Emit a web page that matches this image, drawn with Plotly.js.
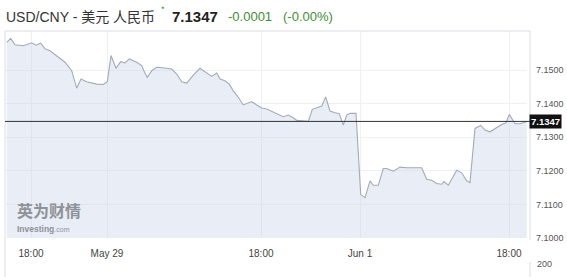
<!DOCTYPE html>
<html><head><meta charset="utf-8">
<script src="https://cdn.plot.ly/plotly-3.0.1.min.js"></script>
<style>html,body{margin:0;padding:0;background:#fff;}#chart{width:567px;height:277px;}</style>
</head><body><div id="chart"></div>
<script>
// bar positions (time index) and USD/CNY rates
const barPos = [0.7,4.7,9,17.3,25.7,30,34.7,39,44,50.7,59,65.7,70.7,75,80.7,90.7,97.3,101.3,105,110,114.7,119,123.3,130.7,135.7,138,141.3,145.7,150.7,159,165.7,170.7,175.7,180.7,187.3,194,200.7,205.7,210.7,214,219,223.3,227.3,232.3,237.3,242.3,245.7,250.7,255.7,260.7,265,269,274,277.3,282.3,287.3,290.7,297.3,302.3,306.3,310.7,315.7,319.7,324,329,333.3,337.3,340.7,344,350,354.7,359,364,367.3,372.3,377.3,380.7,387.3,394,400.7,415.7,420.7,425.7,430.7,435.7,438,442.3,447.3,450.7,455.7,460.7,464,469,474.7,479,484,489,495.7,500,503.3,509,514,520.7];
const rates = [7.1582,7.1594,7.1575,7.1572,7.1581,7.1574,7.1580,7.1563,7.1557,7.1543,7.1523,7.1498,7.1446,7.1473,7.1465,7.1458,7.1457,7.1465,7.1543,7.1505,7.1525,7.1521,7.1533,7.1523,7.1513,7.1497,7.1478,7.1498,7.1508,7.1506,7.1503,7.1488,7.1465,7.1461,7.1485,7.1505,7.1491,7.1481,7.1491,7.1473,7.1468,7.1458,7.1438,7.1419,7.1396,7.1402,7.1406,7.1396,7.1387,7.1384,7.1378,7.1372,7.1365,7.1361,7.1366,7.1358,7.1350,7.1349,7.1347,7.1383,7.1388,7.1393,7.1420,7.1378,7.1373,7.1370,7.1336,7.1366,7.1371,7.1371,7.1130,7.1120,7.1170,7.1157,7.1157,7.1207,7.1207,7.1199,7.1211,7.1209,7.1209,7.1175,7.1172,7.1162,7.1160,7.1168,7.1157,7.1185,7.1202,7.1194,7.1170,7.1165,7.1326,7.1335,7.1321,7.1316,7.1326,7.1338,7.1343,7.1368,7.1340,7.1340,7.1347];
const xTickPos = [25, 101, 255, 354, 503];
const xTickText = ['18:00', 'May 29', '18:00', 'Jun 1', '18:00'];
const yTicks = [7.10, 7.11, 7.12, 7.13, 7.14, 7.15];
const lastPrice = 7.1347;
const change = '-0.0001';
const changePct = '(-0.00%)';
const titleText = 'USD/CNY - 美元 人民币';

const L = 6, R = 40, T = 31, B = 39, W = 567, H = 277;
const pw = W - L - R, ph = H - T - B;
const px = v => (v - L) / pw;          // pixel x -> paper
const py = v => (H - B - v) / ph;      // pixel y -> paper
const font = 'Liberation Sans, Arial, Noto Sans CJK SC, sans-serif';
const green = '#3c8f2f';

const trace = {
  x: barPos, y: rates, type: 'scatter', mode: 'lines',
  line: {color: '#a3abb8', width: 1.1},
  fill: 'tozeroy', fillcolor: 'rgba(205,215,234,0.45)',
  hoverinfo: 'skip'
};

const borderColor = '#d9dde3';
const layout = {
  width: W, height: H,
  margin: {l: L, r: R, t: T, b: B, pad: 0},
  paper_bgcolor: '#fff', plot_bgcolor: '#fff',
  showlegend: false,
  font: {family: font, color: '#555'},
  xaxis: {
    range: [0, pw], tickvals: xTickPos, ticktext: xTickText,
    showgrid: true, gridcolor: '#eef0f4', gridwidth: 1, zeroline: false,
    ticks: '', tickfont: {size: 10, color: '#444'}, ticklabelstandoff: 8,
    showline: false, fixedrange: true
  },
  yaxis: {
    range: [7.1, 7.1 + ph / 3360], side: 'right', tickvals: yTicks,
    tickformat: '.4f', showgrid: true, gridcolor: '#eef0f4', zeroline: false,
    ticks: '', tickfont: {size: 9, color: '#555'}, ticklabelstandoff: 8,
    showline: false, fixedrange: true
  },
  shapes: [
    {type: 'line', xref: 'paper', yref: 'paper', x0: px(5), x1: px(5), y0: 1, y1: py(277), line: {color: borderColor, width: 1}},
    {type: 'line', xref: 'paper', yref: 'paper', x0: px(5), x1: px(530), y0: 1, y1: 1, line: {color: borderColor, width: 1}},
    {type: 'line', xref: 'paper', yref: 'paper', x0: px(530), x1: px(530), y0: 1, y1: py(240), line: {color: borderColor, width: 1}},
    {type: 'line', xref: 'paper', yref: 'paper', x0: px(530), x1: px(530), y0: py(262), y1: py(277), line: {color: borderColor, width: 1}},
    {type: 'line', xref: 'paper', yref: 'y', x0: px(5), x1: px(530), y0: lastPrice, y1: lastPrice, line: {color: '#333', width: 1}}
  ],
  annotations: [
    {xref: 'paper', yref: 'paper', x: px(4), y: py(17), xanchor: 'left', yanchor: 'middle', showarrow: false,
     text: titleText, font: {size: 14, color: '#333', family: font}},
    {xref: 'paper', yref: 'paper', x: px(162), y: py(7), xanchor: 'center', yanchor: 'middle', showarrow: false,
     text: '●', font: {size: 5, color: '#3aa14a', family: font}},
    {xref: 'paper', yref: 'paper', x: px(170), y: py(17), xanchor: 'left', yanchor: 'middle', showarrow: false,
     text: '<b>' + lastPrice.toFixed(4) + '</b>', font: {size: 15, color: '#222', family: font}},
    {xref: 'paper', yref: 'paper', x: px(226), y: py(17), xanchor: 'left', yanchor: 'middle', showarrow: false,
     text: change, font: {size: 13, color: green, family: font}},
    {xref: 'paper', yref: 'paper', x: px(281), y: py(17), xanchor: 'left', yanchor: 'middle', showarrow: false,
     text: changePct, font: {size: 13, color: green, family: font}},
    {xref: 'paper', yref: 'y', x: px(529), y: lastPrice, xanchor: 'left', yanchor: 'middle', showarrow: false,
     text: '<b>' + lastPrice.toFixed(4) + '</b>', bgcolor: '#111', borderpad: 1,
     font: {size: 9.5, color: '#fff', family: font}},
    {xref: 'paper', yref: 'paper', x: px(535), y: py(264), xanchor: 'left', yanchor: 'middle', showarrow: false,
     text: '200', font: {size: 9, color: '#555', family: font}},
    {xref: 'paper', yref: 'paper', x: px(15), y: py(210), xanchor: 'left', yanchor: 'middle', showarrow: false,
     text: '<b>英为财情</b>', font: {size: 16, color: '#8f9296', family: 'Noto Sans CJK SC'}},
    {xref: 'paper', yref: 'paper', x: px(15), y: py(228.5), xanchor: 'left', yanchor: 'middle', showarrow: false,
     text: '<b>Investing</b><span style="font-weight:normal;font-size:7px">.com</span>', font: {size: 8.5, color: '#8f9296', family: font}}
  ]
};

Plotly.newPlot('chart', [trace], layout, {displayModeBar: false, staticPlot: true});
</script>
</body></html>
